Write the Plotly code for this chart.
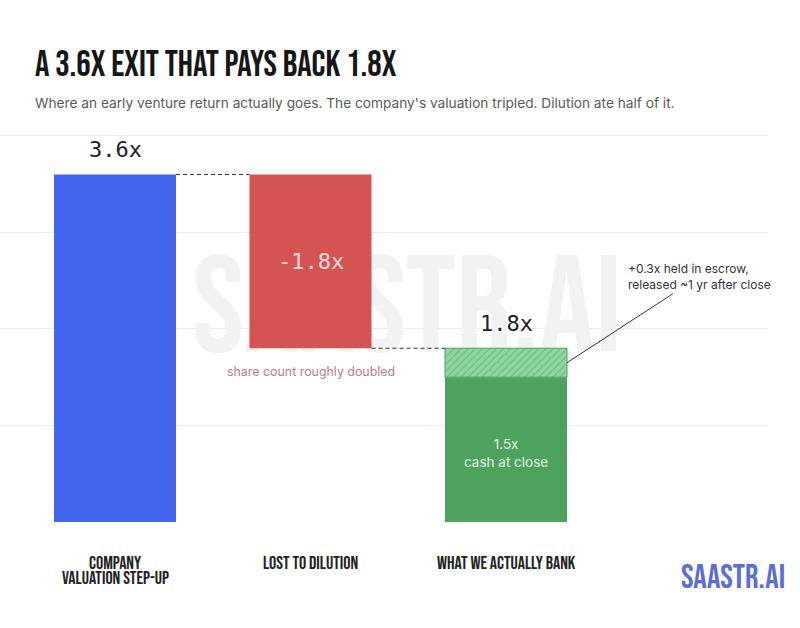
import plotly.graph_objects as go

# ---------------- data ----------------
cat_lines = [["COMPANY", "VALUATION STEP-UP"], ["LOST TO DILUTION"], ["WHAT WE ACTUALLY BANK"]]
step_up = 3.6          # company valuation step-up
dilution = -1.8        # lost to dilution
cash_at_close = 1.5    # cash at close
escrow = 0.3           # held in escrow
banked = step_up + dilution
value_labels = ["3.6x", "-1.8x", "1.8x"]
y_ticks = [1, 2, 3, 4]

# ---------------- styling ----------------
W, H = 800, 628
UNIT_Y = 96.5
ML, MR, MB = 0, 32, 106
YR = [0, 4.05]
MT = int(round(H - MB - YR[1] * UNIT_Y))
PW, PH = W - ML - MR, H - MT - MB
UNIT_X = 195.5
X0 = -115 / UNIT_X
XR = [X0, X0 + PW / UNIT_X]
BAR_W = 0.624

BLUE = "#4567F0"
RED = "#D45353"
GREEN = "#4DA35D"
HATCH_BG = "#8FD5A1"
DARK = "#222222"
TITLE_FONT = "Bebas Neue, Oswald, sans-serif"
MONO = "DejaVu Sans Mono, Liberation Mono, monospace"
SANS = "Inter, Noto Sans, sans-serif"


def px_x(p):
    return (p - ML) / PW


def px_y(p):
    return (H - MB - p) / PH


fig = go.Figure()

# watermark on the base axes (drawn under bars)
fig.add_trace(go.Scatter(
    x=[(407 - ML) / UNIT_X + X0], y=[(H - MB - 318) / UNIT_Y],
    mode="text", text=["SAASTR.AI"],
    textfont=dict(family=TITLE_FONT, size=138, color="#f2f2f2"),
    hoverinfo="skip", showlegend=False, xaxis="x", yaxis="y"))

xs = [0, 1, 2]
# company valuation step-up
fig.add_trace(go.Bar(x=[xs[0]], y=[step_up], base=[0], width=BAR_W,
                     marker=dict(color=BLUE, line=dict(width=0)),
                     xaxis="x2", yaxis="y2", showlegend=False, hoverinfo="skip"))
# dilution (floating)
fig.add_trace(go.Bar(x=[xs[1]], y=[-dilution], base=[step_up + dilution], width=BAR_W,
                     marker=dict(color=RED, line=dict(width=0)),
                     xaxis="x2", yaxis="y2", showlegend=False, hoverinfo="skip"))
# cash at close
fig.add_trace(go.Bar(x=[xs[2]], y=[cash_at_close], base=[0], width=BAR_W,
                     marker=dict(color=GREEN, line=dict(width=0)),
                     xaxis="x2", yaxis="y2", showlegend=False, hoverinfo="skip"))
# escrow (hatched)
fig.add_trace(go.Bar(x=[xs[2]], y=[escrow], base=[cash_at_close], width=BAR_W,
                     marker=dict(color=HATCH_BG, line=dict(width=1, color=GREEN),
                                 pattern=dict(shape="/", fgcolor="#3F9A52", bgcolor=HATCH_BG,
                                              size=5, solidity=0.2)),
                     xaxis="x2", yaxis="y2", showlegend=False, hoverinfo="skip"))

# dashed connectors
fig.add_shape(type="line", xref="x", yref="y", x0=xs[0] + BAR_W / 2, x1=xs[1] - BAR_W / 2,
              y0=step_up, y1=step_up, line=dict(color="#333333", width=1, dash="4px,3px"))
fig.add_shape(type="line", xref="x", yref="y", x0=xs[1] + BAR_W / 2, x1=xs[2] - BAR_W / 2,
              y0=banked, y1=banked, line=dict(color="#333333", width=1, dash="4px,3px"))

# value labels
fig.add_annotation(x=xs[0], y=step_up, xref="x", yref="y", text=value_labels[0], showarrow=False,
                   yanchor="bottom", yshift=10, font=dict(family=MONO, size=22, color=DARK))
fig.add_annotation(x=xs[1], y=step_up - 0.9, xref="x", yref="y", text=value_labels[1], showarrow=False,
                   yanchor="middle", font=dict(family=MONO, size=22, color="#F8DADA"))
fig.add_annotation(x=xs[2], y=banked, xref="x", yref="y", text=value_labels[2], showarrow=False,
                   yanchor="bottom", yshift=10, font=dict(family=MONO, size=22, color=DARK))
fig.add_annotation(x=xs[1], y=banked, xref="x", yref="y", text="share count roughly doubled",
                   showarrow=False, yanchor="middle", yshift=-23,
                   font=dict(family=SANS, size=12.4, color="#C47A86"))
fig.add_annotation(x=xs[2], y=0.71, xref="x", yref="y", text="1.5x<br>cash at close",
                   showarrow=False, yanchor="middle",
                   font=dict(family=SANS, size=13.5, color="#E2F2E4"))
# escrow callout
fig.add_annotation(x=xs[2] + BAR_W / 2, y=cash_at_close + escrow / 2, xref="x", yref="y",
                   text="+0.3x held in escrow,<br>released ~1 yr after close", align="left",
                   showarrow=True, arrowhead=0, arrowwidth=1, arrowcolor="#333333",
                   ax=132, ay=-86, font=dict(family=SANS, size=12, color="#333333"))

# category labels
for i, lines in enumerate(cat_lines):
    for j, ln in enumerate(lines):
        fig.add_annotation(x=xs[i], y=px_y(563 + 15 * j), xref="x", yref="paper", text=ln,
                           showarrow=False, yanchor="middle",
                           font=dict(family=TITLE_FONT, size=18, color=DARK))

# title, subtitle, logo
fig.add_annotation(x=px_x(33), y=px_y(65), xref="paper", yref="paper", xanchor="left", yanchor="middle",
                   text="A 3.6X EXIT THAT PAYS BACK 1.8X", showarrow=False,
                   font=dict(family=TITLE_FONT, size=36, color="#161616"))
fig.add_annotation(x=px_x(33), y=px_y(103), xref="paper", yref="paper", xanchor="left", yanchor="middle",
                   text="Where an early venture return actually goes. The company's valuation tripled. Dilution ate half of it.",
                   showarrow=False, font=dict(family=SANS, size=13.7, color="#5a5a5a"))
fig.add_annotation(x=px_x(733), y=px_y(578), xref="paper", yref="paper", xanchor="center", yanchor="middle",
                   text="SAASTR.AI", showarrow=False,
                   font=dict(family=TITLE_FONT, size=33.5, color="#5B6ED3"))

fig.update_layout(
    width=W, height=H, margin=dict(l=ML, r=MR, t=MT, b=MB),
    paper_bgcolor="white", plot_bgcolor="white", barmode="overlay",
    xaxis=dict(range=XR, visible=False, fixedrange=True),
    yaxis=dict(range=YR, tickvals=y_ticks, showgrid=True, gridcolor="#ebebeb", gridwidth=1,
               showticklabels=False, zeroline=False, showline=False, ticks="", fixedrange=True),
    xaxis2=dict(range=XR, overlaying="x", visible=False, fixedrange=True),
    yaxis2=dict(range=YR, overlaying="y", visible=False, fixedrange=True),
)

fig.write_html("out.html")
